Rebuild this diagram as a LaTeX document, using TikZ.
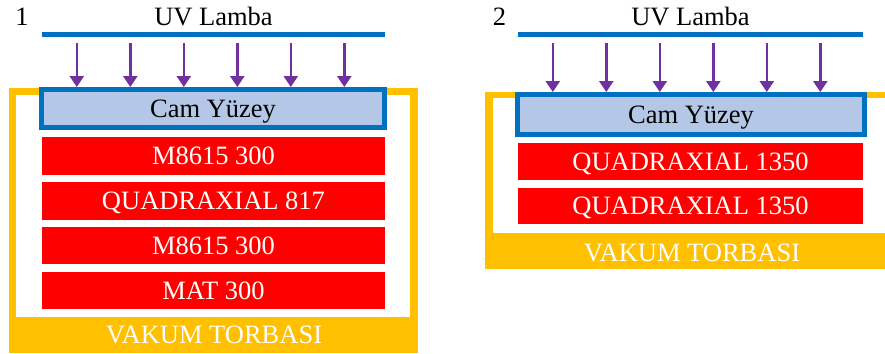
\documentclass[tikz,border=0pt]{standalone}
\usepackage{fontspec}
\setmainfont{Liberation Serif}
\usetikzlibrary{arrows.meta, calc}
\definecolor{uvblue}{HTML}{0070C0}
\definecolor{glassblue}{HTML}{B4C7E7}
\definecolor{layerred}{HTML}{FF0000}
\definecolor{bagyellow}{HTML}{FFC000}
\definecolor{uvpurple}{HTML}{7030A0}

\begin{document}
\begin{tikzpicture}[x=1pt, y=-1pt,
    lbl/.style={font=\fontsize{26.5}{30}\selectfont, inner sep=0pt},
    capt/.style={lbl, text height=17.5pt, text depth=0pt},
    lamp/.style={rectangle, fill=uvblue, minimum height=5pt, inner sep=0pt},
    glass/.style={capt, rectangle, draw=uvblue, line width=5pt, fill=glassblue},
    layer/.style={capt, rectangle, fill=layerred, text=white},
    uv/.style={-{Triangle[length=11pt, width=14pt]}, line width=2.6pt, uvpurple}]
    \fill[white] (0,0) rectangle (885,353);
    % 1
    \fill[bagyellow] (9,88) rectangle (418,353);
    \fill[white] (16,95) rectangle (410,317);
    \node[capt, text=white] (bagA) at (214,335) {VAKUM TORBASI};
    \node[lbl, anchor=base] (numA) at (22,26) {1};
    \node[lbl, anchor=base] (uvA) at (213.5,26) {UV Lamba};
    \node[lamp, minimum width=343pt] (lampA) at (213.5,34.5) {};
    \node[glass, minimum width=343pt, minimum height=38pt] (glassA) at (213,108.5) {Cam Yüzey};
    \node[layer, minimum width=343pt, minimum height=37.5pt] (layA1) at (213.5,156) {M8615 300};
    \node[layer, minimum width=343pt, minimum height=37.5pt] (layA2) at (213.5,201) {QUADRAXIAL 817};
    \node[layer, minimum width=343pt, minimum height=37.5pt] (layA3) at (213.5,245.5) {M8615 300};
    \node[layer, minimum width=343pt, minimum height=37.5pt] (layA4) at (213.5,290.5) {MAT 300};
    \foreach \i in {0,...,5} {
        \coordinate (rayA\i) at ($(lampA.south west)+({35+53.5*\i},6)$);
        \draw[uv] (rayA\i) -- (rayA\i |- glassA.north);
    }
    % 2
    \begin{scope}
        \clip (0,0) rectangle (885,353);
        \fill[bagyellow] (485,92) rectangle (900,269);
        \fill[white] (493,98) rectangle (900,233);
    \end{scope}
    \node[capt, text=white] (bagB) at (692,252.5) {VAKUM TORBASI};
    \node[lbl, anchor=base] (numB) at (499.5,25.5) {2};
    \node[lbl, anchor=base] (uvB) at (690.5,25.5) {UV Lamba};
    \node[lamp, minimum width=345pt] (lampB) at (690.5,34.5) {};
    \node[glass, minimum width=347pt, minimum height=40pt] (glassB) at (691,114.5) {Cam Yüzey};
    \node[layer, minimum width=345pt, minimum height=37pt] (layB1) at (690.5,161.5) {QUADRAXIAL 1350};
    \node[layer, minimum width=345pt, minimum height=36pt] (layB2) at (690.5,206) {QUADRAXIAL 1350};
    \foreach \i in {0,...,5} {
        \coordinate (rayB\i) at ($(lampB.south west)+({35+53.5*\i},6)$);
        \draw[uv] (rayB\i) -- (rayB\i |- glassB.north);
    }
\end{tikzpicture}
\end{document}
